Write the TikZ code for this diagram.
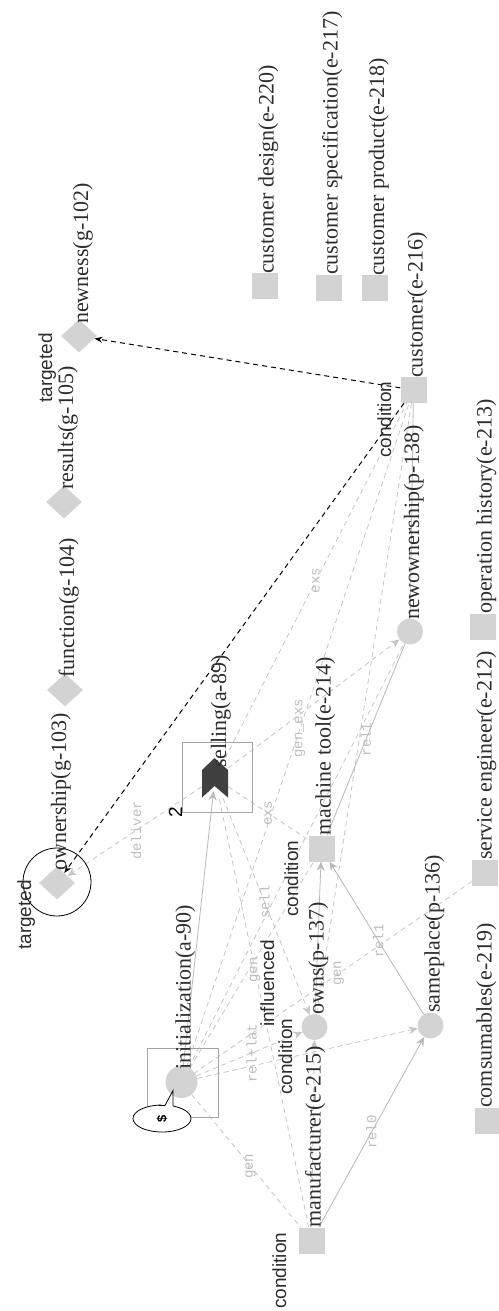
\documentclass[tikz,border=0pt]{standalone}
\usepackage{fontspec}
\setmainfont{Liberation Serif}
\newfontfamily\sansfam{Liberation Sans}
\newfontfamily\monofam{Liberation Mono}
\usetikzlibrary{shapes.geometric,arrows.meta}
\definecolor{nodegray}{RGB}{211,211,211}
\definecolor{edgegray}{RGB}{198,198,198}
\definecolor{flowgray}{RGB}{185,185,185}
\definecolor{elabgray}{RGB}{190,190,190}
\definecolor{boxgray}{RGB}{165,165,165}
\definecolor{darkfill}{RGB}{64,64,64}
\definecolor{labelcol}{RGB}{45,45,45}
\newcommand\nodelabelfont{\fontsize{22}{24}\selectfont}
\newcommand\edgelabelfont{\monofam\fontsize{14}{15}\selectfont}
\newcommand\notelabelfont{\sansfam\fontsize{19}{20}\selectfont}
\pgfdeclarelayer{paper}
\pgfdeclarelayer{edges}
\pgfsetlayers{paper,edges,main}
\begin{document}
\begin{tikzpicture}[x=1pt,y=-1pt,
  ent/.style={rectangle, fill=nodegray, minimum size=26pt, inner sep=0pt},
  proc/.style={circle, fill=nodegray, minimum size=26pt, inner sep=0pt},
  goal/.style={diamond, fill=nodegray, minimum width=36pt, minimum height=33pt, inner sep=0pt},
  framebox/.style={rectangle, draw=boxgray, line width=0.8pt, inner sep=0pt},
  lbl/.style={rotate=90, anchor=base west, inner sep=0pt, font=\nodelabelfont, text=labelcol},
  note/.style={rotate=90, anchor=base west, inner sep=0pt, font=\notelabelfont, text=labelcol},
  elab/.style={rotate=90, inner sep=0pt, font=\edgelabelfont, text=elabgray},
  rel/.style={draw=edgegray, line width=0.8pt, dash pattern=on 5pt off 4pt},
  flow/.style={draw=flowgray, line width=0.8pt},
  gtip/.style={-{Stealth[length=9pt,width=8pt,inset=3pt]}},
  tgt/.style={draw=black, line width=1pt, dash pattern=on 5pt off 4pt,
              -{Stealth[length=8pt,width=6pt]}}]
\begin{pgfonlayer}{paper}
  \fill[white] (0,0) rectangle (498,1311);
\end{pgfonlayer}
\useasboundingbox (0,0) rectangle (498,1311);

% goals
\node[goal] (newness)   at (79,336) {};
\node[goal] (results)   at (64,502) {};
\node[goal] (function)  at (65,690) {};
\node[goal] (ownership) at (57,883) {};
% entities
\node[ent] (cdesign) at (264.5,286) {};
\node[ent] (cspec)   at (328.5,287.5) {};
\node[ent] (cprod)   at (375,288) {};
\node[ent] (cust)    at (413.5,390) {};
\node[ent] (mtool)   at (321.5,848.5) {};
\node[ent] (seng)    at (485,872.5) {};
\node[ent] (ophist)  at (483,626.5) {};
\node[ent] (consum)  at (488,1120.5) {};
\node[ent] (manuf)   at (311.5,1240.5) {};
% processes
\node[proc] (newown) at (410,631.5) {};
\node[proc] (samepl) at (430.5,1025.5) {};
\node[proc] (owns)   at (314.5,1027) {};
% activities
\node[proc, minimum size=32pt] (init) at (181.5,1082) {};
\node[framebox, minimum width=71pt, minimum height=69pt] (initbox) at (182.5,1082.5) {};
\node[rectangle, minimum width=26pt, minimum height=40pt, inner sep=0pt] (sell) at (215,778) {};
\node[framebox, minimum width=70pt, minimum height=70pt] (sellbox) at (217,777) {};
\fill[darkfill] (202,770) -- (214.5,758) -- (228,770) -- (228,797.5)
  -- (214.5,786) -- (202,797.5) -- cycle;

% target marker round the ownership goal
\node[circle, draw=black, line width=0.8pt, minimum size=68pt, inner sep=0pt] (tmark) at (57,882) {};

% relations
\begin{pgfonlayer}{edges}
  \draw[rel, gtip] (sell) -- node[elab, pos=0.49] {deliver} (ownership);
  \draw[rel] (sell) -- node[elab, pos=0.5] {exs} (cust);
  \draw[rel] (init) -- node[elab, pos=0.51] {gen\_exs} (cust);
  \draw[rel] (cust) -- (owns);
  \draw[rel] (sell) -- node[elab, pos=0.5] {exs} (mtool);
  \draw[rel, gtip] (sell) -- node[elab, pos=0.48] {sell} (owns);
  \draw[rel] (manuf) -- node[elab, pos=0.6] {gen} (sell);
  \draw[rel, gtip] (init) -- node[elab, pos=0.52] {rel+lat} (owns);
  \draw[rel, gtip] (init) -- (samepl);
  \draw[rel] (init) -- node[elab, pos=0.54] {gen} (manuf);
  \draw[rel] (seng) -- node[elab, pos=0.48] {gen} (init);
  \draw[rel, gtip] (sell) -- (newown);
  \draw[rel] (init) -- (newown);
  \draw[rel] (init) -- (mtool);
  \draw[rel, gtip] (manuf) -- (owns);
  % flows
  \draw[flow, gtip, shorten >=-7pt] (init) -- (sell);
  \draw[flow, gtip] (manuf) -- node[elab, pos=0.5] {rel0} (samepl);
  \draw[flow, gtip] (samepl) -- node[elab, pos=0.48] {rel1} (mtool);
  \draw[flow, gtip] (owns) -- (mtool);
  \draw[flow] (mtool) -- node[elab, pos=0.5] {rel1} (newown);
  \draw[flow] (cust) -- (newown);
\end{pgfonlayer}

% targeted goals
\draw[tgt] (cust) -- (newness);
\draw[tgt] (cust) -- (ownership);

% node labels
\node[lbl] (l-newness)   at (88,324)    {newness(g-102)};
\node[lbl] (l-results)   at (73,490)    {results(g-105)};
\node[lbl] (l-function)  at (74,678)    {function(g-104)};
\node[lbl] (l-ownership) at (66,871)    {ownership(g-103)};
\node[lbl] (l-cdesign)   at (273.5,274) {customer design(e-220)};
\node[lbl] (l-cspec)     at (337.5,275) {customer specification(e-217)};
\node[lbl] (l-cprod)     at (384,276)   {customer product(e-218)};
\node[lbl] (l-cust)      at (422.5,378) {customer(e-216)};
\node[lbl] (l-mtool)     at (330.5,836) {machine tool(e-214)};
\node[lbl] (l-seng)      at (491.5,860) {service engineer(e-212)};
\node[lbl] (l-ophist)    at (491.5,614) {operation history(e-213)};
\node[lbl] (l-consum)    at (491.5,1108) {comsumables(e-219)};
\node[lbl] (l-manuf)     at (320.5,1228) {manufacturer(e-215)};
\node[lbl] (l-newown)    at (419,620)   {newownership(p-138)};
\node[lbl] (l-samepl)    at (439.5,1013) {sameplace(p-136)};
\node[lbl] (l-owns)      at (323.5,1015) {owns(p-137)};
\node[lbl] (l-init)      at (190.5,1070) {initialization(a-90)};
\node[lbl] (l-sell)      at (226,768)   {selling(a-89)};

% notes
\node[note] (n-targ1) at (52,403)   {targeted};
\node[note] (n-targ2) at (31,950)   {targeted};
\node[note] (n-cond1) at (391,458)  {condition};
\node[note] (n-cond2) at (298,917)  {condition};
\node[note] (n-cond3) at (292,1095) {condition};
\node[note] (n-cond4) at (286,1309) {condition};
\node[note] (n-infl)  at (274,1027) {influenced};
\node[note, text=black] (n-two) at (182,818) {2};
\node[note, text=black] (n-one) at (147,1123) {1};

% start marker
\node[ellipse, rotate=90, draw=black, fill=white, line width=0.8pt,
      minimum width=27pt, minimum height=58pt, inner sep=0pt,
      font=\sansfam\bfseries\fontsize{13}{13}\selectfont] (sbub) at (162,1118.5) {\$};
\fill[white] (160.5,1103) rectangle (173,1108);
\draw[line width=0.8pt] (159,1105.5) -- (165,1105.5) -- (173,1090.5) -- (173,1106);
\end{tikzpicture}
\end{document}
